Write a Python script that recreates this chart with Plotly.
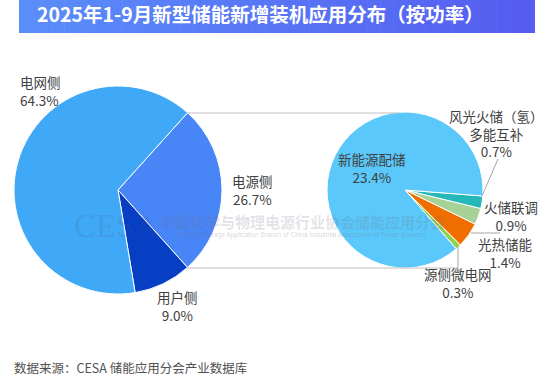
import plotly.graph_objects as go

W, H = 553, 378

title_text = "2025年1-9月新型储能新增装机应用分布（按功率）"
source_text = "数据来源：CESA 储能应用分会产业数据库"

left_labels = ["电源侧", "用户侧", "电网侧"]
left_values = [26.7, 9.0, 64.3]
left_colors = ["#4885f7", "#063ec4", "#3fa9f7"]

right_labels = ["风光火储（氢）<br>多能互补", "火储联调", "光热储能", "源侧微电网", "新能源配储"]
right_values = [0.7, 0.9, 1.4, 0.3, 23.4]
right_colors = ["#26b8b8", "#a6d296", "#f06e00", "#92d050", "#5ac8fa"]

FONT = "Noto Sans CJK SC, Microsoft YaHei, sans-serif"
LABEL_COLOR = "#404040"


def px(x):
    return x / W


def py(y):
    return 1 - y / H


fig = go.Figure()

fig.add_trace(go.Pie(
    labels=left_labels, values=left_values, sort=False, direction="clockwise",
    rotation=42, textinfo="none", hoverinfo="label+value",
    marker=dict(colors=left_colors, line=dict(color="white", width=1)),
    domain=dict(x=[px(14), px(222)], y=[py(294), py(86)]),
    showlegend=False,
))

fig.add_trace(go.Pie(
    labels=right_labels, values=right_values, sort=False, direction="clockwise",
    rotation=94.4, textinfo="none", hoverinfo="label+value",
    marker=dict(colors=right_colors, line=dict(color="white", width=1)),
    domain=dict(x=[px(327), px(483)], y=[py(268), py(112)]),
    showlegend=False,
))

shapes = []
# gradient banner
c0 = (90, 142, 250)
c1 = (85, 92, 240)
N = 80
bx0, bx1 = 19, 535
for i in range(N):
    t = i / (N - 1)
    col = tuple(round(c0[k] + (c1[k] - c0[k]) * t) for k in range(3))
    xa = bx0 + (bx1 - bx0) * i / N
    xb = bx0 + (bx1 - bx0) * (i + 1) / N + 0.6
    shapes.append(dict(type="rect", xref="paper", yref="paper",
                       x0=px(xa), x1=px(min(xb, bx1)), y0=py(33), y1=py(0),
                       fillcolor="rgb(%d,%d,%d)" % col, line=dict(width=0), layer="below"))

line_style = dict(color="#bfbfbf", width=1)
# connector lines
shapes.append(dict(type="line", xref="paper", yref="paper", x0=px(187), y0=py(113), x1=px(399), y1=py(113), line=line_style))
shapes.append(dict(type="line", xref="paper", yref="paper", x0=px(187), y0=py(268), x1=px(458), y1=py(268), line=line_style))
# leader lines
shapes.append(dict(type="line", xref="paper", yref="paper", x0=px(482), y0=py(196), x1=px(498), y1=py(159), line=dict(color="#a6a6a6", width=1)))
shapes.append(dict(type="line", xref="paper", yref="paper", x0=px(458), y0=py(246), x1=px(458), y1=py(268), line=dict(color="#a6a6a6", width=1)))
shapes.append(dict(type="line", xref="paper", yref="paper", x0=px(471), y0=py(233), x1=px(500), y1=py(233), line=dict(color="#a6a6a6", width=1)))

annotations = []


def ann(text, x, y, size=13.5, color=LABEL_COLOR, align="center", xanchor="center", **kw):
    annotations.append(dict(text=text, x=px(x), y=py(y), xref="paper", yref="paper",
                            showarrow=False, xanchor=xanchor, yanchor="middle", align=align,
                            font=dict(family=kw.pop("family", FONT), size=size, color=color), **kw))


ann("<b>" + title_text + "</b>", 260, 14, size=19.5, color="white")

# watermark
ann("CESA", 116, 226, size=33, color="rgba(70,90,130,0.18)", family="Liberation Serif, serif")
ann("<b>中国化学与物理电源行业协会储能应用分会</b>", 302, 221, size=15, color="rgba(110,110,130,0.2)")
ann("Energy Storage Application Branch of China Industrial Association of Power Sources", 302, 235,
    size=6.6, color="rgba(110,110,130,0.3)", family="Liberation Sans, Arial, sans-serif")

# left labels
lpos = {"电网侧": (18, 91, "left"), "电源侧": (252, 190, "center"), "用户侧": (177, 306, "center")}
for lab, val in zip(left_labels, left_values):
    x, y, a = lpos[lab]
    ann("%s<br>%.1f%%" % (lab, val), x, y, align=a, xanchor=a)

# right labels
rpos = {
    "风光火储（氢）<br>多能互补": (496, 133),
    "火储联调": (511, 216),
    "光热储能": (505, 253),
    "源侧微电网": (458, 283),
    "新能源配储": (372, 168),
}
for lab, val in zip(right_labels, right_values):
    x, y = rpos[lab]
    ann("%s<br>%.1f%%" % (lab, val), x, y)

ann(source_text, 12, 367, size=12.5, color="#505050", align="left", xanchor="left")

fig.update_layout(
    width=W, height=H, margin=dict(l=0, r=0, t=0, b=0),
    paper_bgcolor="white", plot_bgcolor="white",
    shapes=shapes, annotations=annotations,
    font=dict(family=FONT),
)

fig.write_html("out.html", config={"displayModeBar": False},
               post_script="document.body.style.margin='0';document.body.style.overflow='hidden';")
